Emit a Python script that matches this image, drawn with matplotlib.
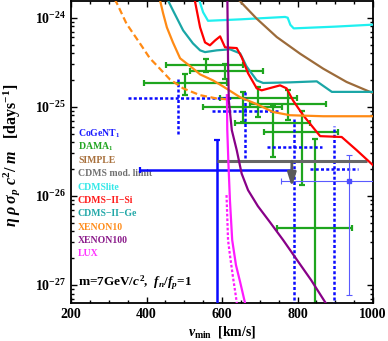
import matplotlib
matplotlib.use('Agg')
import matplotlib.pyplot as plt
from matplotlib.ticker import FixedLocator, LogLocator, MultipleLocator, NullFormatter

plt.rcParams['font.family'] = ['Liberation Serif', 'DejaVu Serif']
plt.rcParams['font.weight'] = 'bold'
plt.rcParams['mathtext.fontset'] = 'custom'
plt.rcParams['mathtext.rm'] = 'Liberation Serif:bold'
plt.rcParams['mathtext.it'] = 'Liberation Serif:italic:bold'
plt.rcParams['mathtext.bf'] = 'Liberation Serif:bold'

# exclusion limits (vmin in km/s, eta*rho*sigma*c^2/m in 1/days)
cdmslite_v = [538, 550, 563, 650, 767, 774, 781, 790, 900, 1000]
cdmslite_y = [1.66e-24, 1.15e-24, 9.23e-25, 9.59e-25, 1.02e-24, 1.0e-24, 8.32e-25, 7.59e-25, 7.94e-25, 8.36e-25]

simple_v = [640, 660, 692, 745, 807, 868, 930, 992, 1000]
simple_y = [1.66e-24, 1.35e-24, 9.75e-25, 6.07e-25, 3.94e-25, 2.68e-25, 1.90e-25, 1.47e-25, 1.43e-25]

si_v = [524, 528, 542, 555, 568, 582, 595, 608, 639, 652, 669, 692, 705, 754, 771, 788, 815, 860, 917, 957, 1000]
si_y = [2.0e-24, 1.56e-24, 7.78e-25, 5.28e-25, 4.90e-25, 5.57e-25, 6.17e-25, 4.65e-25, 4.56e-25, 3.61e-25,
        2.38e-25, 1.61e-25, 1.53e-25, 1.74e-25, 1.61e-25, 1.18e-25, 8.04e-26, 4.68e-26, 4.58e-26, 3.25e-26, 2.21e-26]

ge_v = [450, 457, 470, 497, 523, 542, 555, 586, 621, 648, 665, 692, 709, 780, 851, 891, 1000]
ge_y = [1.78e-24, 1.56e-24, 1.21e-24, 7.21e-25, 5.15e-25, 4.30e-25, 4.11e-25, 4.30e-25, 4.42e-25, 3.98e-25,
        2.84e-25, 1.98e-25, 1.85e-25, 1.88e-25, 1.93e-25, 1.47e-25, 1.47e-25]

xe10_v = [432, 436, 444, 454, 470, 489, 523, 542, 576, 602, 648, 692, 735, 780, 868, 1000]
xe10_y = [1.78e-24, 1.56e-24, 1.12e-24, 7.78e-25, 5.28e-25, 3.50e-25, 2.70e-25, 2.31e-25, 1.98e-25, 1.70e-25,
          1.28e-25, 1.07e-25, 8.75e-26, 8.04e-26, 7.83e-26, 7.83e-26]

xe10_alt_v = [314, 322, 347, 383, 409, 427, 462, 497, 542, 586, 616]
xe10_alt_y = [1.66e-24, 1.44e-24, 8.57e-25, 5.12e-25, 3.50e-25, 2.92e-25, 2.03e-25, 1.61e-25, 1.35e-25, 1.24e-25, 1.21e-25]

xe100_v = [614, 616, 618, 626, 639, 652, 669, 695, 727, 762, 799, 836, 873, 880]
xe100_y = [2.0e-24, 3.32e-25, 1.18e-25, 5.46e-26, 3.26e-26, 1.78e-26, 1.16e-26, 7.67e-27, 5.07e-27,
           3.19e-27, 1.90e-27, 1.135e-27, 6.43e-28, 5.8e-28]

lux_v = [613, 614, 617, 621, 627, 637, 648, 661, 666]
lux_y = [1.35e-25, 5.46e-26, 2.33e-26, 8.95e-27, 3.19e-27, 1.67e-27, 1.08e-27, 6.27e-28, 5.0e-28]

lux_alt_v = [612, 616, 621, 629, 637, 640]
lux_alt_y = [1.02e-26, 3.19e-27, 2.17e-27, 1.23e-27, 7.35e-28, 5.9e-28]

# CDMS modulation limit
cdms_mod_v = [586, 983]
cdms_mod_y = 2.45e-26
cdms_arrow_v = 785
cdms_arrow_y = [2.45e-26, 1.26e-26]

# DAMA crosses: centre, x range, y range
dama_v = [558, 608, 502, 656, 776, 695, 736, 813, 846]
dama_vlo = [451, 515, 393, 595, 674, 550, 634, 712, 747]
dama_vhi = [656, 709, 612, 798, 875, 758, 833, 906, 945]
dama_y = [2.97e-25, 2.55e-25, 1.83e-25, 1.245e-25, 1.086e-25, 1.0e-25, 6.58e-26, 5.18e-26, 4.31e-27]
dama_ylo = [2.45e-25, 2.07e-25, 1.35e-25, 6.76e-26, 7.06e-26, 7.69e-26, 2.74e-26, 1.32e-26, 1e-28]
dama_yhi = [3.47e-25, 3.05e-25, 2.31e-25, 1.47e-25, 1.53e-25, 1.67e-25, 1.04e-25, 9.02e-26, 4.40e-26]

# CoGeNT crosses (dotted)
cogent_v = [483, 662, 791, 898]
cogent_vlo = [352, 573, 718, 833]
cogent_vhi = [626, 754, 864, 959]
cogent_y = [1.245e-25, 9.02e-26, 3.55e-26, 2.02e-26]
cogent_ylo = [5.01e-26, 2.68e-26, 1e-28, 1e-28]
cogent_yhi = [2.03e-25, 1.53e-25, 7.38e-26, 6.12e-26]

# CoGeNT solid cross and thin cross
cogent1_v, cogent1_vlo, cogent1_vhi = 586, 383, 785
cogent1_y, cogent1_ylo, cogent1_yhi = 1.94e-26, 1e-28, 4.29e-26
cogent2_v, cogent2_vlo, cogent2_vhi = 937, 755, 1100
cogent2_y, cogent2_ylo, cogent2_yhi = 1.46e-26, 7.71e-28, 2.86e-26

labels = ['CoGeNT$_1$', 'DAMA$_1$', 'SIMPLE', 'CDMS mod. limit', 'CDMSlite', 'CDMS\u2212II\u2212Si',
          'CDMS\u2212II\u2212Ge', 'XENON10', 'XENON100', 'LUX']
label_colors = ['#1a1aff', '#22a622', '#a8703c', '#707070', '#33e8e8', '#ff1a1a', '#22a8a8',
                '#ff8c1a', '#8a1a8a', '#ff33ff']

blue = '#0a0aff'
green = '#1ea51e'

fig = plt.figure(figsize=(3.88, 3.41), dpi=100)
ax = fig.add_axes([71 / 388, 38 / 341, 302 / 388, 302 / 341])
ax.set_yscale('log')

# DAMA
for i in range(len(dama_v)):
    ax.errorbar(dama_v[i], dama_y[i],
                xerr=[[dama_v[i] - dama_vlo[i]], [dama_vhi[i] - dama_v[i]]],
                yerr=[[dama_y[i] - dama_ylo[i]], [dama_yhi[i] - dama_y[i]]],
                fmt='none', ecolor=green, elinewidth=1.6, capsize=2, capthick=1.6, zorder=2)

# CoGeNT dotted
dots = (0, (1.2, 0.9))
for i in range(len(cogent_v)):
    ax.hlines(cogent_y[i], cogent_vlo[i], cogent_vhi[i], colors=blue, lw=1.8, linestyles=dots, zorder=3)
    ax.vlines(cogent_v[i], cogent_ylo[i], cogent_yhi[i], colors=blue, lw=1.8, linestyles=dots, zorder=3)

ax.errorbar(cogent1_v, cogent1_y,
            xerr=[[cogent1_v - cogent1_vlo], [cogent1_vhi - cogent1_v]],
            yerr=[[cogent1_y - cogent1_ylo], [cogent1_yhi - cogent1_y]],
            fmt='none', ecolor=blue, elinewidth=1.8, capsize=2, capthick=1.6, zorder=3)
ax.errorbar(cogent2_v, cogent2_y,
            xerr=[[cogent2_v - cogent2_vlo], [cogent2_vhi - cogent2_v]],
            yerr=[[cogent2_y - cogent2_ylo], [cogent2_yhi - cogent2_y]],
            fmt='s', ms=2.5, color='#4d4dff', ecolor='#5a5aff', elinewidth=0.8, capsize=2, capthick=0.8, zorder=3)

# CDMS modulation limit
ax.hlines(cdms_mod_y, cdms_mod_v[0], cdms_mod_v[1], colors='#666666', lw=2.2, zorder=4)
ax.annotate('', xy=(cdms_arrow_v, cdms_arrow_y[1]), xytext=(cdms_arrow_v, cdms_arrow_y[0]),
            arrowprops=dict(arrowstyle='-|>,head_length=0.8,head_width=0.25', color='#5a5a5a',
                            lw=2, mutation_scale=10, shrinkA=0, shrinkB=0), zorder=4)

# exclusion curves
ax.plot(cdmslite_v, cdmslite_y, color='#1ff0f0', lw=1.6, zorder=5)
ax.plot(simple_v, simple_y, color='#9c6b3a', lw=1.6, zorder=5)
ax.plot(ge_v, ge_y, color='#1aa6a6', lw=1.6, zorder=5)
ax.plot(si_v, si_y, color='#ff0000', lw=1.6, zorder=5)
ax.plot(xe10_v, xe10_y, color='#ff8a14', lw=1.6, zorder=5)
ax.plot(xe10_alt_v, xe10_alt_y, color='#ff8a14', lw=1.6, ls=(0, (3, 1.6)), zorder=5)
ax.plot(lux_alt_v, lux_alt_y, color='#ff1aff', lw=1.6, ls=(0, (1.2, 0.9)), zorder=5)
ax.plot(lux_v, lux_y, color='#ff1aff', lw=1.6, zorder=5)
ax.plot(xe100_v, xe100_y, color='#880088', lw=1.6, zorder=6)

for i, (name, col) in enumerate(zip(labels, label_colors)):
    ax.text(0.023, (303 - 133.4 - 13.4 * i) / 302, name, color=col, fontsize=7,
            fontweight='bold', transform=ax.transAxes, va='center', ha='left', zorder=1)

ax.text(0.023, (303 - 282.5) / 302, r'm=7GeV/$c^2$,  $f_n/f_p$=1', fontsize=9.5,
        fontweight='bold', transform=ax.transAxes, va='center', ha='left')

ax.set_xlim(200, 1000)
ax.set_ylim(6.27e-28, 1.54e-24)
ax.xaxis.set_major_locator(MultipleLocator(200))
ax.xaxis.set_minor_locator(MultipleLocator(50))
ax.yaxis.set_major_locator(FixedLocator([1e-27, 1e-26, 1e-25, 1e-24]))
ax.set_yticklabels([r'$10^{-27}$', r'$10^{-26}$', r'$10^{-25}$', r'$10^{-24}$'])
ax.yaxis.set_minor_locator(LogLocator(base=10, subs=range(2, 10), numticks=20))
ax.yaxis.set_minor_formatter(NullFormatter())
ax.tick_params(which='both', direction='in', top=True, right=True, labelsize=10, width=1)
ax.tick_params(which='major', length=4.5)
ax.tick_params(which='minor', length=2.5)
for s in ax.spines.values():
    s.set_linewidth(1.3)

ax.set_xlabel(r'$v_{\rm min}$  [km/s]', fontsize=10, fontweight='bold')
ax.set_ylabel(r'$\eta\;\rho\;\sigma_p\;c^2/\;m$   [days$^{-1}$]', fontsize=11.5, fontweight='bold')
ax.yaxis.set_label_coords(-0.163, 0.49)
ax.xaxis.set_label_coords(0.5, -0.068)

fig.savefig('out.png', dpi=100)
